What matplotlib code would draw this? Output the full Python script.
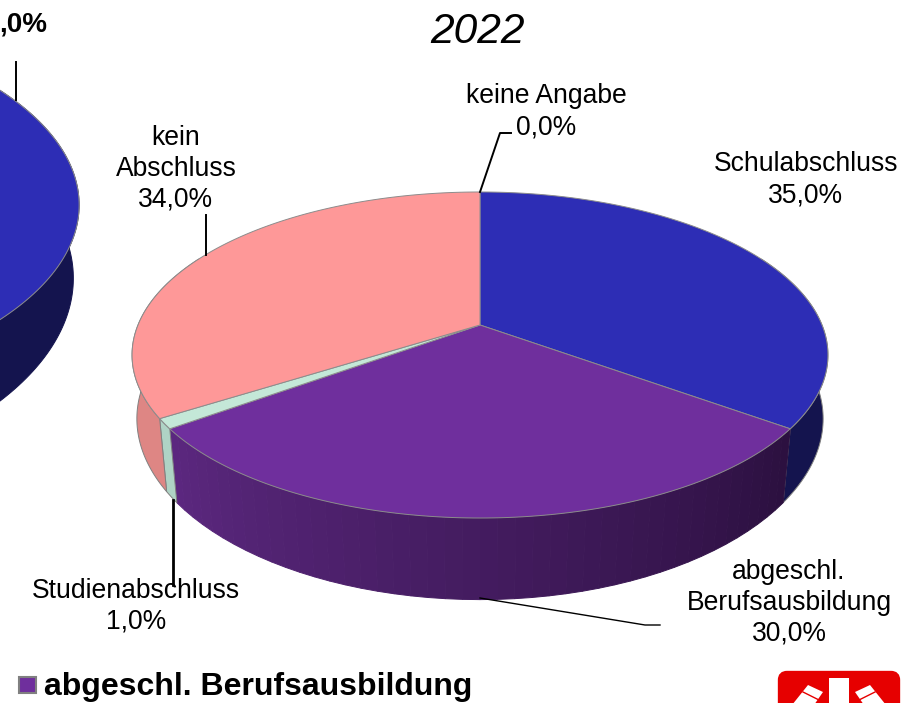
import numpy as np
import matplotlib
matplotlib.use('Agg')
import matplotlib.pyplot as plt
from matplotlib.patches import Polygon, FancyBboxPatch, Rectangle

plt.rcParams['font.family'] = ['Liberation Sans', 'DejaVu Sans']

# --- data ---
title = '2022'
categories = ['Schulabschluss', 'abgeschl.\nBerufsausbildung', 'Studienabschluss', 'kein\nAbschluss', 'keine Angabe']
values = [35.0, 30.0, 1.0, 34.0, 0.0]
top_colors = ['#2d2db5', '#6f2f9d', '#c4e8d8', '#fe9898', '#c0c0c0']
wall_colors = ['#14144e', '#3c1c5c', '#afd3c5', '#de8684', '#909090']
left_share = [50.0]
left_label = ',0%'
legend_label = 'abgeschl. Berufsausbildung'

TILT = 0.184


def rim(theta, cx, cy, a, b):
    # circle seen in perspective, theta clockwise from the top
    u, v = np.sin(theta), np.cos(theta)
    w = 1 + TILT * v
    return np.column_stack([cx + a * u / w, cy - b * v / w])


def arc(start, stop):
    return np.linspace(start, stop, max(2, int(abs(stop - start) * 60)))


def draw_wall(ax, start, stop, color, cx, cy, a, b, scale, edge='#808080'):
    # only the front half of the disc has a visible wall
    start, stop = max(start, np.pi * 0.35), min(stop, np.pi * 1.65)
    if stop <= start:
        return
    t = arc(start, stop)
    upper = rim(t, cx, cy, a, b)
    # lower rim: slightly narrower towards the front
    lower = rim(t, cx, cy + 65 * scale, a * (0.99 + 0.022 * np.cos(t)), b * 1.086)
    ax.add_patch(Polygon(np.vstack([upper, lower[::-1]]), fc=color, ec=edge, lw=0.7, zorder=2))


def draw_purple_wall(ax, start, stop, cx, cy, a, b):
    # wall shading runs from light (left) to dark (right)
    edges = np.linspace(start, stop, 45)
    left_rgb = np.array(matplotlib.colors.to_rgb('#5c2880'))
    right_rgb = np.array(matplotlib.colors.to_rgb('#2c1040'))
    for t0, t1 in zip(edges[:-1], edges[1:]):
        f = (t0 - start) / (stop - start)
        col = left_rgb * f + right_rgb * (1 - f)
        draw_wall(ax, t0, t1, col, cx, cy, a, b, 1, edge=col)


def draw_top(ax, start, stop, color, cx, cy, a, b):
    t = arc(start, stop)
    pts = np.vstack([[cx, cy], rim(t, cx, cy, a, b)])
    ax.add_patch(Polygon(pts, fc=color, ec='#8c8c8c', lw=0.7, zorder=3, joinstyle='round'))


fig = plt.figure(figsize=(9.12, 7.03), dpi=100)
ax = fig.add_axes([0, 0, 1, 1])
ax.set_xlim(0, 912)
ax.set_ylim(703, 0)
ax.axis('off')

# --- partly visible pie on the left ---
lx, ly, la, lb = -338, 169, 410, 189
stop = 2 * np.pi * left_share[0] / 100
draw_wall(ax, 0, stop, '#14144e', lx, ly, la, lb, 1.15, edge='#14144e')
draw_top(ax, 0, stop, '#2d2db5', lx, ly, la, lb)

# --- main pie ---
cx, cy, a, b = 480, 325, 342, 157.5
angles = np.cumsum([0] + values) / 100 * 2 * np.pi
for i in range(len(values)):
    if values[i] == 0:
        continue
    if i == 1:
        draw_purple_wall(ax, angles[i], angles[i + 1], cx, cy, a, b)
    else:
        draw_wall(ax, angles[i], angles[i + 1], wall_colors[i], cx, cy, a, b, 1)
for i in range(len(values)):
    if values[i] > 0:
        draw_top(ax, angles[i], angles[i + 1], top_colors[i], cx, cy, a, b)

# --- labels ---
def pct(v):
    return f'{v:.1f}%'.replace('.', ',')


fs = 19.1
ls = 1.25
ax.text(478, 32, title, fontsize=30.6, style='italic', ha='center', va='center')
ax.text(806, 179.5, f'{categories[0]}\n{pct(values[0])}', fontsize=fs, ha='center', va='center', linespacing=ls)
ax.text(789, 603, f'{categories[1]}\n{pct(values[1])}', fontsize=fs, ha='center', va='center', linespacing=ls)
ax.text(136, 606.5, f'{categories[2]}\n{pct(values[2])}', fontsize=fs, ha='center', va='center', linespacing=ls)
ax.text(176, 169, f'{categories[3]}\n{pct(values[3])}', fontsize=fs, ha='center', va='center', linespacing=ls)
ax.text(546, 111.5, f'{categories[4]}\n{pct(values[4])}', fontsize=fs, ha='center', va='center', linespacing=ls)
ax.text(47, 25, left_label, fontsize=20, fontweight='bold', ha='right', va='center')

# --- leader lines ---
ax.plot([480, 500, 511], [192, 133, 133], color='black', lw=1.4, zorder=4)
ax.plot([206, 206], [255, 215], color='black', lw=1.4, zorder=4)
ax.plot([173, 173], [500, 585], color='black', lw=2, zorder=4)
ax.plot([480, 645, 660], [598, 625, 625], color='black', lw=1, zorder=4)
ax.plot([16, 16], [62, 100], color='black', lw=1.4, zorder=4)

# --- legend ---
ax.add_patch(Rectangle((19, 677), 17, 16, fc=top_colors[1], ec='#808080', lw=1.5, zorder=3))
ax.text(44, 686.5, legend_label, fontsize=23, fontweight='bold', ha='left', va='center')

# --- logo ---
ax.add_patch(FancyBboxPatch((782, 675), 114, 60, boxstyle='round,pad=0,rounding_size=5',
                            fc='#e60000', ec='#e60000', lw=6, zorder=3))
ax.add_patch(Rectangle((829, 678), 20, 30, fc='white', ec='none', zorder=4))
for pts in ([(808, 685), (823, 692), (814, 705), (792, 705)],
            [(870, 685), (855, 692), (864, 705), (886, 705)]):
    ax.add_patch(Polygon(pts, fc='white', ec='none', zorder=4))
ax.plot([803, 819], [692, 700], color='#e60000', lw=1, zorder=5)
ax.plot([875, 859], [692, 700], color='#e60000', lw=1, zorder=5)

fig.savefig('out.png', dpi=100)
